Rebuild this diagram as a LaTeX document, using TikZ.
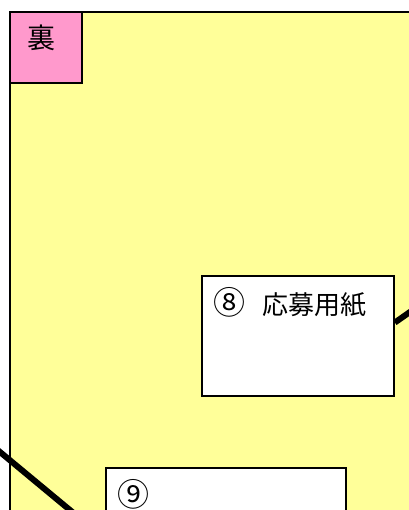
\documentclass[tikz,border=0pt]{standalone}
\usepackage{fontspec}
\usetikzlibrary{calc}
\newfontfamily\cjk{Noto Sans CJK JP}
\definecolor{pagey}{HTML}{FFFF99}
\definecolor{pinkk}{HTML}{FF99CC}
\begin{document}
\begin{tikzpicture}[x=0.75pt,y=-0.75pt,
  panel/.style={draw=black, line width=1.5pt, fill=pagey, inner sep=0pt, anchor=north west},
  tagbox/.style={draw=black, line width=1.5pt, fill=pinkk, inner sep=0pt, anchor=north west, minimum width=54pt, minimum height=53.25pt},
  itembox/.style={draw=black, line width=1.4pt, fill=white, inner sep=0pt, anchor=north west},
  lbl/.style={inner sep=0pt, anchor=west, font=\cjk\fontsize{19.5pt}{22pt}\selectfont},
  num/.style={font=\cjk\fontsize{24pt}{26pt}\selectfont},
  conn/.style={draw=black, line width=4.5pt}]
\useasboundingbox (0,0) rectangle (409,510);
\clip (0,0) rectangle (409,510);
\node[panel, minimum width=330pt, minimum height=400pt] (yel) at (9,11) {};
\node[tagbox] (tag) at (9,11) {};
\node[inner sep=0pt, font=\cjk\fontsize{21pt}{23pt}\selectfont] (tagt) at (41,38) {裏};
\node[itembox, minimum width=144pt, minimum height=90pt] (b8) at (201,275) {};
\node[lbl] (t8) at (213,302) {{\fontsize{24pt}{26pt}\selectfont ⑧}\hspace{13pt}応募用紙};
\node[itembox, minimum width=180pt, minimum height=80pt] (b9) at (105,467) {};
\node[lbl, num] (t9) at (117,494) {⑨};
\coordinate (c8) at ($(b8.north east)!0.39!(b8.south east)$);
\coordinate (e8) at (440,291);
\draw[conn] (c8) -- (e8);
\coordinate (ea) at (-10,443.7);
\coordinate (eb) at (100,535);
\draw[conn] (ea) -- (eb);
\end{tikzpicture}
\end{document}
